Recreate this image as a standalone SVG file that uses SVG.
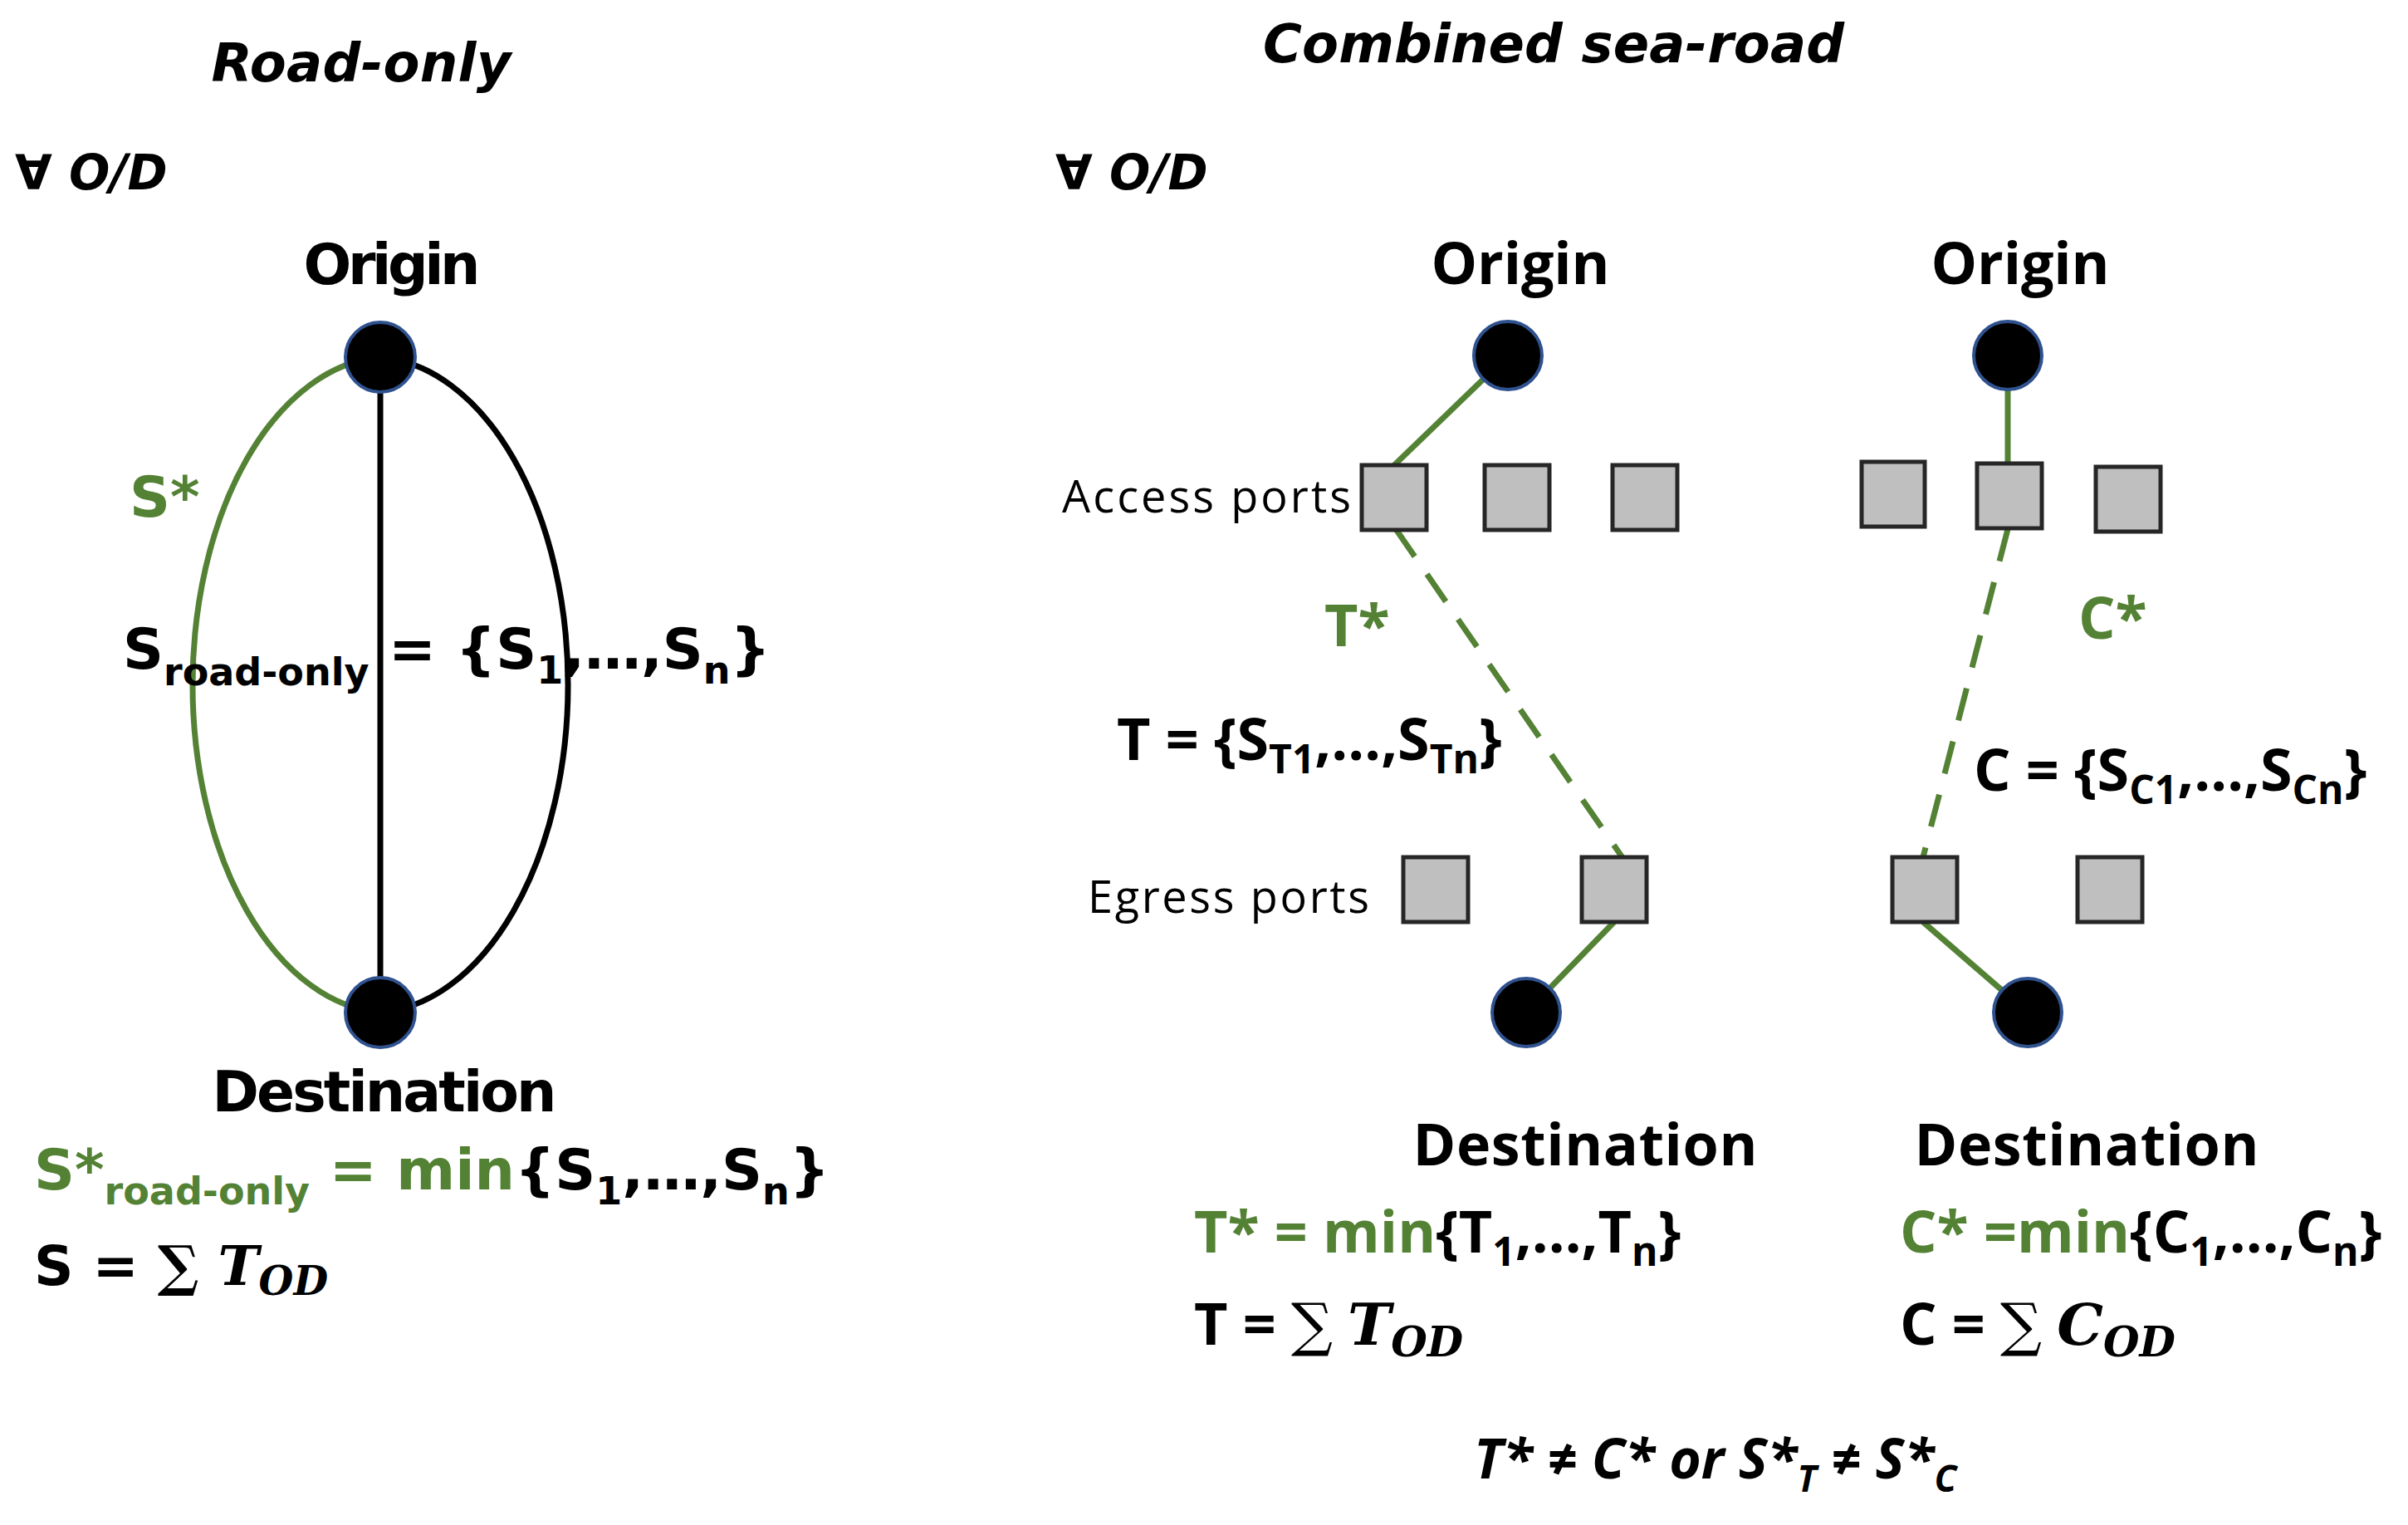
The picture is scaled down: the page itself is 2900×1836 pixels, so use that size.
<svg xmlns="http://www.w3.org/2000/svg" width="2900" height="1836" viewBox="0 0 2900 1836">
<style>
.t{font-family:"DejaVu Sans",sans-serif;font-weight:bold;fill:#000}
.c{font-family:"Open Sans","Liberation Sans",sans-serif;fill:#000}
.g{fill:#548235}
.it{font-style:italic}
.m{font-family:"DejaVu Serif","Liberation Serif",serif;font-style:italic;font-weight:bold}
.node{fill:#000;stroke:#2f528f;stroke-width:4}
.port{fill:#bfbfbf;stroke:#262626;stroke-width:5}
.gl{stroke:#548235;stroke-width:7;fill:none}
</style>
<rect width="2900" height="1836" fill="#fff"/>
<g id="connectors">
<path d="M458 430 A238 395 0 0 0 458 1219" class="gl"/>
<path d="M458 430 A238 395 0 0 1 458 1219" fill="none" stroke="#000" stroke-width="7"/>
<line x1="458" y1="430" x2="458" y2="1219" stroke="#000" stroke-width="7"/>
<line x1="1816" y1="428" x2="1677" y2="562" class="gl"/>
<line x1="1681" y1="637" x2="1964" y2="1047" class="gl" stroke-dasharray="40,26"/>
<line x1="1944" y1="1110" x2="1838" y2="1219" class="gl"/>
<line x1="2418" y1="428" x2="2418" y2="560" class="gl"/>
<line x1="2418" y1="637" x2="2316" y2="1032" class="gl" stroke-dasharray="40,26"/>
<line x1="2316" y1="1110" x2="2442" y2="1219" class="gl"/>
</g>
<g id="titles">
<text x="435" y="98" class="t it" font-size="64" text-anchor="middle" font-weight="normal" textLength="361">Road-only</text>
<text x="1871" y="75" class="t it" font-size="64" text-anchor="middle" textLength="700">Combined sea-road</text>
<text x="18" y="228" class="t it" font-size="58">∀ O/D</text>
<text x="1271" y="228" class="t it" font-size="58">∀ O/D</text>
</g>
<g id="road-origin"><circle cx="458" cy="430" r="42" class="node"/><text x="472" y="342" class="t" font-size="68" text-anchor="middle" textLength="213">Origin</text></g>
<g id="road-destination"><circle cx="458" cy="1219" r="42" class="node"/><text x="463" y="1338" class="t" font-size="68" text-anchor="middle" textLength="415">Destination</text></g>
<g id="road-labels">
<text x="156" y="622" class="t g" font-size="68" font-weight="normal">S*</text>
<text x="148" y="805" class="t" font-size="68" font-weight="normal">S<tspan font-size="46" dy="20">road-only</tspan><tspan dy="-20"> = {S</tspan><tspan font-size="46" dy="18">1</tspan><tspan dy="-18">,…,S</tspan><tspan font-size="46" dy="18">n</tspan><tspan dy="-18">}</tspan></text>
<text x="41" y="1432" class="t" font-size="68" font-weight="normal"><tspan class="g">S*</tspan><tspan class="g" font-size="46" dy="18">road-only</tspan><tspan class="g" dy="-18"> = min</tspan>{S<tspan font-size="46" dy="18">1</tspan><tspan dy="-18">,…,S</tspan><tspan font-size="46" dy="18">n</tspan><tspan dy="-18">}</tspan></text>
<text x="41" y="1547" class="t" font-size="66" font-weight="normal">S = <tspan font-family="DejaVu Serif,serif">∑</tspan> <tspan class="m">T</tspan><tspan class="m" font-size="48" dy="12">OD</tspan></text>
</g>
<g id="t-origin"><circle cx="1816" cy="428" r="41" class="node"/><text x="1831" y="342" class="c" font-weight="bold" font-size="70" text-anchor="middle" textLength="215">Origin</text></g>
<g id="c-origin"><circle cx="2418" cy="428" r="41" class="node"/><text x="2433" y="342" class="c" font-weight="bold" font-size="70" text-anchor="middle" textLength="215">Origin</text></g>
<g id="access-ports">
<text x="1627" y="617" class="c" font-size="54" text-anchor="end" textLength="348">Access ports</text>
<rect x="1640" y="560" width="78" height="78" class="port"/>
<rect x="1788" y="560" width="78" height="78" class="port"/>
<rect x="1942" y="560" width="78" height="78" class="port"/>
<rect x="2242" y="556" width="76" height="78" class="port"/>
<rect x="2381" y="558" width="78" height="78" class="port"/>
<rect x="2524" y="562" width="78" height="78" class="port"/>
</g>
<g id="egress-ports">
<text x="1649" y="1099" class="c" font-size="54" text-anchor="end" textLength="339">Egress ports</text>
<rect x="1690" y="1032" width="78" height="78" class="port"/>
<rect x="1905" y="1032" width="78" height="78" class="port"/>
<rect x="2279" y="1032" width="78" height="78" class="port"/>
<rect x="2502" y="1032" width="78" height="78" class="port"/>
</g>
<g id="t-destination"><circle cx="1838" cy="1219" r="41" class="node"/><text x="1909" y="1403" class="c" font-weight="bold" font-size="70" text-anchor="middle" textLength="415">Destination</text></g>
<g id="c-destination"><circle cx="2442" cy="1219" r="41" class="node"/><text x="2513" y="1403" class="c" font-weight="bold" font-size="70" text-anchor="middle" textLength="415">Destination</text></g>
<g id="sea-labels">
<text x="1595" y="778" class="c g" font-weight="bold" font-size="70">T*</text>
<text x="2503" y="769" class="c g" font-weight="bold" font-size="70">C*</text>
<text x="1345" y="915" class="c" font-weight="bold" font-size="70">T = {S<tspan font-size="48" dy="16">T1</tspan><tspan dy="-16">,…,S</tspan><tspan font-size="48" dy="16">Tn</tspan><tspan dy="-16">}</tspan></text>
<text x="2377" y="952" class="c" font-weight="bold" font-size="70">C = {S<tspan font-size="48" dy="16">C1</tspan><tspan dy="-16">,…,S</tspan><tspan font-size="48" dy="16">Cn</tspan><tspan dy="-16">}</tspan></text>
<text x="1438" y="1508" class="c" font-weight="bold" font-size="70"><tspan class="g">T* = min</tspan>{T<tspan font-size="48" dy="16">1</tspan><tspan dy="-16">,…,T</tspan><tspan font-size="48" dy="16">n</tspan><tspan dy="-16">}</tspan></text>
<text x="1438" y="1619" class="c" font-weight="bold" font-size="70">T = <tspan font-family="DejaVu Serif,serif" font-weight="normal">∑</tspan> <tspan class="m">T</tspan><tspan class="m" font-size="50" dy="14">OD</tspan></text>
<text x="2288" y="1508" class="c" font-weight="bold" font-size="70"><tspan class="g">C* =min</tspan>{C<tspan font-size="48" dy="16">1</tspan><tspan dy="-16">,…,C</tspan><tspan font-size="48" dy="16">n</tspan><tspan dy="-16">}</tspan></text>
<text x="2288" y="1619" class="c" font-weight="bold" font-size="70">C = <tspan font-family="DejaVu Serif,serif" font-weight="normal">∑</tspan> <tspan class="m">C</tspan><tspan class="m" font-size="50" dy="14">OD</tspan></text>
<text x="1775" y="1780" class="c it" font-weight="bold" font-size="66">T* ≠ C*  or S*<tspan font-size="44" dy="16">T</tspan><tspan dy="-16"> ≠ S*</tspan><tspan font-size="44" dy="16">C</tspan></text>
</g>
</svg>
